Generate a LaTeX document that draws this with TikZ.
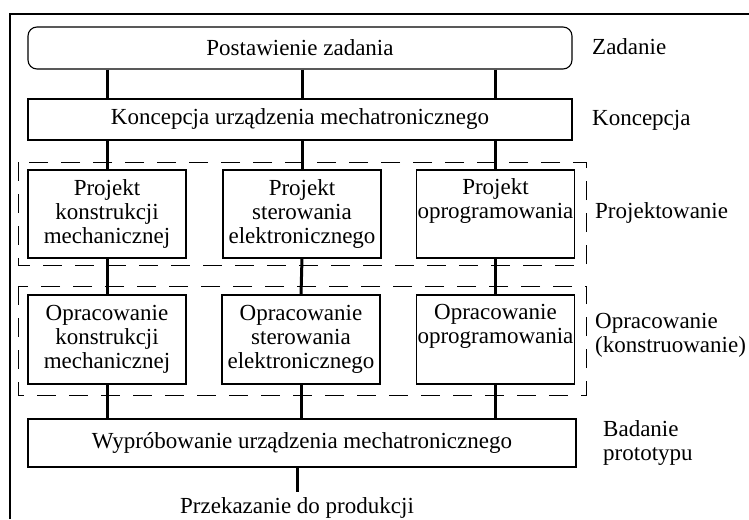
\documentclass[tikz,border=0pt]{standalone}
\usepackage{fontspec}
\setmainfont{Liberation Serif}

\begin{document}
\begin{tikzpicture}[x=1pt,y=-1pt,
  every node/.style={font=\fontsize{23}{24}\selectfont, inner sep=0pt},
  stage/.style={draw, line width=1.1pt, align=center},
  wide/.style={stage, minimum width=544pt},
  col/.style={stage, minimum width=158pt, minimum height=88pt},
  link/.style={line width=3pt},
  group/.style={line width=1pt, dash pattern=on 19pt off 13pt},
  side/.style={anchor=west, align=left}]
\useasboundingbox (0,0) rectangle (749,519);

% Frame
\draw[line width=1.3pt] (10,519) |- (749,14);

% Main stages
\node[wide, rounded corners=9pt, minimum height=42pt] (zad) at (300,48) {Postawienie zadania};
\node[wide, minimum height=41pt] (kon) at (300,119.5) {Koncepcja urządzenia mechatronicznego};
\node[stage, minimum width=548pt, minimum height=48pt] (wyp) at (302,443) {Wypróbowanie urządzenia mechatronicznego};
\node[anchor=north] (prz) at (297,497) {Przekazanie do produkcji};

% Design columns
\node[col] (p1) at (107,214) {Projekt\\konstrukcji\\mechanicznej};
\node[col] (p2) at (302,214) {Projekt\\sterowania\\elektronicznego};
\node[col] (p3) at (495.5,214) {Projekt\\oprogramowania\\\strut};

% Development columns
\node[col, minimum height=89pt] (o1) at (107,339.5) {Opracowanie\\konstrukcji\\mechanicznej};
\node[col, minimum height=89pt] (o2) at (301,339.5) {Opracowanie\\sterowania\\elektronicznego};
\node[col, minimum height=89pt] (o3) at (495.5,339.5) {Opracowanie\\oprogramowania\\\strut};

% Dashed groups
\draw[group] (18,162) rectangle (586,265);
\draw[group] (18,286) rectangle (586,395);

% Phase labels
\node[side] (lzad) at (592,47) {Zadanie};
\node[side] (lkon) at (592,120) {Koncepcja};
\node[side] (lpro) at (595,213) {Projektowanie};
\node[side] (lopr) at (595,335) {Opracowanie\\(konstruowanie)};
\node[side] (lbad) at (603,443) {Badanie\\prototypu};

% Connectors
\foreach \c in {p1,p2,p3} {
  \draw[link] (zad.south -| \c) -- (kon.north -| \c);
  \draw[link] (kon.south -| \c) -- (\c.north);
}
\foreach \c/\d in {p1/o1,p2/o2,p3/o3} {
  \draw[link] (\c.south) -- (\d.north);
  \draw[link] (\d.south) -- (\d.south |- wyp.north);
}
\draw[link] (wyp.south -| prz.north) -- ([yshift=5pt]prz.north);
\end{tikzpicture}
\end{document}
